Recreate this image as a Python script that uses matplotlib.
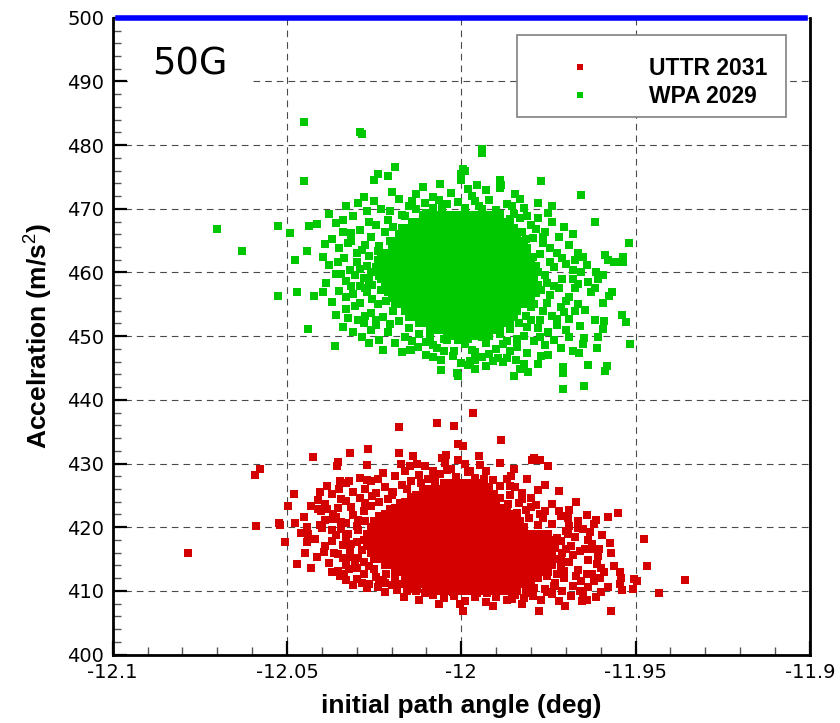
import matplotlib
matplotlib.use("Agg")
import matplotlib.pyplot as plt
from matplotlib.patches import Rectangle
from matplotlib.ticker import MultipleLocator

plt.rcParams["font.family"] = ["DejaVu Sans"]
plt.rcParams["mathtext.fontset"] = "custom"
plt.rcParams["mathtext.rm"] = "Liberation Sans"
plt.rcParams["mathtext.it"] = "Liberation Sans:italic"
plt.rcParams["mathtext.bf"] = "Liberation Sans:bold"

# ---------------------------------------------------------------- data
series_names = ["UTTR 2031", "WPA 2029"]
series_colors = ["#d40000", "#00c800"]

# (initial path angle [deg], acceleration [m/s^2]) for each Monte-Carlo run
uttr_points = [
    # outlying runs
    (-11.9965, 437.9), (-12.018, 435.7), (-12.0069, 436.4), (-12.002, 435.9), (-12.0008, 433.0),
    (-11.9996, 432.8), (-11.9886, 433.7), (-12.0424, 431.0), (-12.032, 431.7), (-12.0267, 432.3),
    (-12.018, 431.6), (-12.0139, 431.2), (-12.0578, 429.2), (-12.0592, 428.2), (-12.0354, 430.3),
    (-12.0357, 429.6), (-12.027, 429.8), (-12.0174, 430.0), (-12.0147, 429.6), (-12.0127, 429.9),
    (-12.0055, 430.9), (-12.0043, 431.3), (-12.0047, 430.1), (-11.9989, 430.0), (-11.9945, 429.8),
    (-11.989, 430.1), (-11.9797, 430.6), (-11.9791, 430.9), (-11.9773, 430.5), (-11.9752, 429.6),
    (-11.9856, 428.0), (-11.9759, 426.7), (-11.9719, 425.7), (-11.9549, 422.3), (-11.9578, 421.6),
    (-11.9614, 421.1), (-11.9475, 418.2), (-11.9466, 413.9), (-11.9359, 411.7), (-11.9433, 409.7),
    (-11.9505, 411.8), (-11.9495, 411.5), (-11.9508, 410.3), (-11.957, 406.8), (-11.9778, 406.8),
    (-11.9994, 406.9), (-11.9702, 407.7), (-11.9653, 408.4), (-11.9639, 408.5), (-11.9613, 409.1),
    (-11.9538, 410.1), (-11.9545, 411.0), (-11.9574, 417.5), (-11.957, 415.9), (-11.9562, 413.9),
    (-11.9545, 412.9), (-11.9543, 412.0), (-11.960, 413.6), (-11.9602, 412.0), (-11.9608, 415.5),
    (-11.9637, 418.0), (-11.9629, 416.5),
    (-12.0785, 416.0), (-12.0588, 420.2), (-12.0524, 420.6), (-12.0519, 420.3), (-12.0497, 423.3),
    (-12.0477, 420.7), (-12.0506, 417.7), (-12.0471, 414.2), (-12.0451, 421.6), (-12.0443, 420.0),
    (-12.044, 418.9), (-12.0443, 417.7), (-12.0448, 416.0), (-12.0404, 425.5), (-12.0384, 426.4),
    (-12.041, 422.8), (-12.0402, 422.5), (-12.0369, 422.1), (-12.0367, 421.3), (-12.0405, 420.3),
    (-12.040, 419.9), (-12.0354, 413.1), (-12.0349, 412.3), (-12.031, 410.9), (-12.0322, 413.5),
    (-12.0339, 415.1), (-12.0348, 427.2), (-12.0331, 426.9), (-12.0321, 427.2), (-12.0346, 424.5),
    (-12.027, 427.4), (-12.026, 427.2), (-12.0236, 411.4), (-12.0218, 411.2), (-12.0144, 410.3),
    (-12.0126, 410.3), (-12.0103, 409.6),
    # left flank
    (-12.041, 424.3), (-12.039, 423.6), (-12.037, 425.2), (-12.0355, 423.0), (-12.033, 424.1),
    (-12.031, 425.6), (-12.029, 424.6), (-12.0275, 426.0), (-12.0245, 425.3), (-12.022, 426.3),
    (-12.020, 425.1), (-12.017, 426.6), (-12.0145, 427.3), (-12.012, 428.2), (-12.0095, 427.6),
    (-12.008, 428.8), (-12.0225, 428.5), (-12.019, 428.0),
    (-12.039, 421.2), (-12.037, 419.6), (-12.0345, 420.8), (-12.033, 418.4), (-12.031, 421.9),
    (-12.030, 420.2), (-12.028, 422.6), (-12.026, 423.4), (-12.0235, 423.9), (-12.021, 424.4),
    (-12.042, 418.2), (-12.039, 417.1), (-12.0365, 416.0), (-12.034, 417.2), (-12.032, 416.3),
    (-12.0295, 415.2), (-12.0415, 415.3), (-12.038, 414.4), (-12.0355, 415.8), (-12.033, 414.0),
    (-12.030, 413.6), (-12.028, 412.6), (-12.0265, 413.9), (-12.0245, 412.2), (-12.0225, 411.7),
    (-12.020, 410.9), (-12.0175, 411.0), (-12.0155, 410.0), (-12.030, 411.9), (-12.0265, 411.0),
    (-12.036, 418.7), (-12.033, 420.6), (-12.0385, 422.9), (-12.035, 426.0), (-12.029, 427.8),
    (-12.024, 427.6), (-12.016, 428.8), (-12.0105, 429.6), (-12.033, 411.7), (-12.037, 412.9),
    (-12.043, 413.6), (-12.0395, 416.1), (-12.046, 419.1), (-12.043, 423.3), (-12.048, 425.2),
    (-12.027, 410.5), (-12.022, 409.8), (-12.0165, 409.0), (-12.012, 408.6), (-12.0065, 407.9),
    (-12.0325, 418.9), (-12.0315, 417.4), (-12.032, 415.3), (-12.0305, 414.3), (-12.0345, 419.7),
    (-12.036, 421.6), (-12.0315, 423.1), (-12.0275, 423.8), (-12.0255, 424.9), (-12.0195, 425.6),
    (-12.0155, 426.0), (-12.0115, 426.9), (-12.0075, 427.8), (-12.0335, 412.6), (-12.0285, 411.3),
    (-12.024, 410.6), (-12.0185, 410.2), (-12.0295, 421.2), (-12.0275, 420.9), (-12.037, 417.8),
    # upper flank
    (-12.006, 428.4), (-12.003, 429.1), (-12.0015, 427.9), (-11.998, 428.6), (-11.996, 427.8),
    (-11.993, 428.9), (-11.991, 427.4), (-11.989, 426.5), (-11.987, 427.6), (-11.9845, 426.3),
    (-11.9825, 425.4), (-11.980, 424.6), (-11.986, 425.0), (-11.9835, 423.8), (-11.9815, 422.7),
    (-11.9785, 423.5), (-11.976, 422.6), (-11.992, 426.2), (-11.9905, 425.2),
    (-12.001, 430.6), (-11.995, 431.2), (-11.985, 429.1), (-11.981, 427.5), (-11.978, 425.9),
    (-11.974, 423.6), (-11.969, 422.7), (-11.967, 423.9), (-11.964, 421.9),
    (-11.9695, 421.4), (-11.972, 422.6), (-11.9775, 422.0), (-11.980, 423.2), (-11.9825, 424.5),
    (-11.986, 426.4), (-11.9935, 427.6), (-11.9975, 428.9), (-12.004, 429.0),
    # right flank
    (-11.9765, 421.4), (-11.974, 420.5), (-11.9715, 421.8), (-11.969, 420.2), (-11.9665, 421.0),
    (-11.975, 419.0), (-11.9725, 418.3), (-11.970, 419.4), (-11.9675, 418.5), (-11.965, 419.7),
    (-11.9735, 416.7), (-11.971, 415.9), (-11.9685, 417.0), (-11.966, 416.2), (-11.9635, 414.8),
    (-11.974, 414.3), (-11.9715, 413.6), (-11.969, 414.5), (-11.9665, 413.2), (-11.964, 412.7),
    (-11.962, 411.6), (-11.9755, 412.4), (-11.973, 411.2), (-11.9705, 412.0), (-11.968, 410.8),
    (-11.9655, 411.5), (-11.976, 410.3), (-11.974, 409.5), (-11.971, 409.9), (-11.9685, 409.2),
    (-11.966, 410.0), (-11.9795, 409.2), (-11.977, 408.5), (-11.9635, 410.6), (-11.961, 414.2),
    (-11.959, 413.0), (-11.9625, 417.4), (-11.9605, 416.6),
    (-11.962, 420.5), (-11.9595, 418.8), (-11.958, 410.6), (-11.960, 409.8), (-11.972, 408.4),
    (-11.9715, 417.8), (-11.970, 416.5), (-11.9715, 414.9), (-11.9705, 413.1), (-11.9725, 412.6),
    (-11.9735, 410.8), (-11.9755, 409.8), (-11.979, 410.5), (-11.9695, 418.9), (-11.968, 415.6),
    (-11.967, 412.3), (-11.9645, 416.6), (-11.963, 419.2), (-11.9665, 419.9), (-11.965, 409.3),
    (-11.9625, 412.6),
    # lower flank
    (-12.008, 409.3), (-12.005, 408.8), (-12.002, 409.2), (-11.999, 408.4), (-11.996, 409.1),
    (-11.993, 408.3), (-11.990, 409.0), (-11.987, 408.6), (-11.9845, 409.4), (-11.982, 408.9),
    (-11.988, 410.1), (-11.9855, 410.4), (-12.0005, 408.0), (-11.9825, 407.9), (-11.991, 407.6),
    (-11.9955, 409.7), (-12.0025, 409.8), (-11.9925, 409.6), (-11.9855, 408.7), (-11.981, 409.7),
    # edge of the dense centre
    (-12.0295, 419.5), (-12.030, 417.6), (-12.0285, 416.4), (-12.028, 414.6), (-12.025, 413.4),
    (-12.0215, 412.6), (-12.019, 411.8), (-12.013, 409.9), (-12.0235, 421.8), (-12.0205, 422.9),
    (-12.0175, 423.8), (-12.0145, 424.8), (-12.011, 425.8), (-12.0075, 426.7),
    (-11.9805, 421.5), (-11.978, 420.4), (-11.9765, 418.9), (-11.9755, 417.3), (-11.9755, 415.5),
    (-11.9765, 413.8), (-11.978, 412.3), (-11.980, 411.3), (-11.9815, 410.2), (-11.984, 422.2),
    (-11.9865, 423.6), (-11.989, 424.6), (-11.9925, 426.3), (-11.996, 427.8),
    # dense centre
    (-12.005, 427), (-12.003, 427), (-12.001, 427), (-11.999, 427), (-11.997, 427), (-11.995, 427),
    (-12.010, 426), (-12.008, 426), (-12.006, 426), (-12.004, 426), (-12.002, 426), (-12.000, 426),
    (-11.998, 426), (-11.996, 426), (-11.994, 426),
    (-12.013, 425), (-12.011, 425), (-12.009, 425), (-12.007, 425), (-12.005, 425), (-12.003, 425),
    (-12.001, 425), (-11.999, 425), (-11.997, 425), (-11.995, 425), (-11.993, 425), (-11.991, 425),
    (-12.016, 424), (-12.014, 424), (-12.012, 424), (-12.010, 424), (-12.008, 424), (-12.006, 424),
    (-12.004, 424), (-12.002, 424), (-12.000, 424), (-11.998, 424), (-11.996, 424), (-11.994, 424),
    (-11.992, 424), (-11.990, 424),
    (-12.019, 423), (-12.017, 423), (-12.015, 423), (-12.013, 423), (-12.011, 423), (-12.009, 423),
    (-12.007, 423), (-12.005, 423), (-12.003, 423), (-12.001, 423), (-11.999, 423), (-11.997, 423),
    (-11.995, 423), (-11.993, 423), (-11.991, 423), (-11.989, 423), (-11.987, 423),
    (-12.022, 422), (-12.020, 422), (-12.018, 422), (-12.016, 422), (-12.014, 422), (-12.012, 422),
    (-12.010, 422), (-12.008, 422), (-12.006, 422), (-12.004, 422), (-12.002, 422), (-12.000, 422),
    (-11.998, 422), (-11.996, 422), (-11.994, 422), (-11.992, 422), (-11.990, 422), (-11.988, 422),
    (-11.986, 422),
    (-12.025, 421), (-12.023, 421), (-12.021, 421), (-12.019, 421), (-12.017, 421), (-12.015, 421),
    (-12.013, 421), (-12.011, 421), (-12.009, 421), (-12.007, 421), (-12.005, 421), (-12.003, 421),
    (-12.001, 421), (-11.999, 421), (-11.997, 421), (-11.995, 421), (-11.993, 421), (-11.991, 421),
    (-11.989, 421), (-11.987, 421), (-11.985, 421), (-11.983, 421),
    (-12.026, 420), (-12.024, 420), (-12.022, 420), (-12.020, 420), (-12.018, 420), (-12.016, 420),
    (-12.014, 420), (-12.012, 420), (-12.010, 420), (-12.008, 420), (-12.006, 420), (-12.004, 420),
    (-12.002, 420), (-12.000, 420), (-11.998, 420), (-11.996, 420), (-11.994, 420), (-11.992, 420),
    (-11.990, 420), (-11.988, 420), (-11.986, 420), (-11.984, 420), (-11.982, 420),
    (-12.027, 419), (-12.025, 419), (-12.023, 419), (-12.021, 419), (-12.019, 419), (-12.017, 419),
    (-12.015, 419), (-12.013, 419), (-12.011, 419), (-12.009, 419), (-12.007, 419), (-12.005, 419),
    (-12.003, 419), (-12.001, 419), (-11.999, 419), (-11.997, 419), (-11.995, 419), (-11.993, 419),
    (-11.991, 419), (-11.989, 419), (-11.987, 419), (-11.985, 419), (-11.983, 419), (-11.981, 419),
    (-11.979, 419), (-11.977, 419), (-11.975, 419),
    (-12.028, 418), (-12.026, 418), (-12.024, 418), (-12.022, 418), (-12.020, 418), (-12.018, 418),
    (-12.016, 418), (-12.014, 418), (-12.012, 418), (-12.010, 418), (-12.008, 418), (-12.006, 418),
    (-12.004, 418), (-12.002, 418), (-12.000, 418), (-11.998, 418), (-11.996, 418), (-11.994, 418),
    (-11.992, 418), (-11.990, 418), (-11.988, 418), (-11.986, 418), (-11.984, 418), (-11.982, 418),
    (-11.980, 418), (-11.978, 418), (-11.976, 418), (-11.974, 418),
    (-12.027, 417), (-12.025, 417), (-12.023, 417), (-12.021, 417), (-12.019, 417), (-12.017, 417),
    (-12.015, 417), (-12.013, 417), (-12.011, 417), (-12.009, 417), (-12.007, 417), (-12.005, 417),
    (-12.003, 417), (-12.001, 417), (-11.999, 417), (-11.997, 417), (-11.995, 417), (-11.993, 417),
    (-11.991, 417), (-11.989, 417), (-11.987, 417), (-11.985, 417), (-11.983, 417), (-11.981, 417),
    (-11.979, 417), (-11.977, 417), (-11.975, 417), (-11.973, 417),
    (-12.026, 416), (-12.024, 416), (-12.022, 416), (-12.020, 416), (-12.018, 416), (-12.016, 416),
    (-12.014, 416), (-12.012, 416), (-12.010, 416), (-12.008, 416), (-12.006, 416), (-12.004, 416),
    (-12.002, 416), (-12.000, 416), (-11.998, 416), (-11.996, 416), (-11.994, 416), (-11.992, 416),
    (-11.990, 416), (-11.988, 416), (-11.986, 416), (-11.984, 416), (-11.982, 416), (-11.980, 416),
    (-11.978, 416), (-11.976, 416), (-11.974, 416),
    (-12.025, 415), (-12.023, 415), (-12.021, 415), (-12.019, 415), (-12.017, 415), (-12.015, 415),
    (-12.013, 415), (-12.011, 415), (-12.009, 415), (-12.007, 415), (-12.005, 415), (-12.003, 415),
    (-12.001, 415), (-11.999, 415), (-11.997, 415), (-11.995, 415), (-11.993, 415), (-11.991, 415),
    (-11.989, 415), (-11.987, 415), (-11.985, 415), (-11.983, 415), (-11.981, 415), (-11.979, 415),
    (-11.977, 415), (-11.975, 415), (-11.973, 415),
    (-12.022, 414), (-12.020, 414), (-12.018, 414), (-12.016, 414), (-12.014, 414), (-12.012, 414),
    (-12.010, 414), (-12.008, 414), (-12.006, 414), (-12.004, 414), (-12.002, 414), (-12.000, 414),
    (-11.998, 414), (-11.996, 414), (-11.994, 414), (-11.992, 414), (-11.990, 414), (-11.988, 414),
    (-11.986, 414), (-11.984, 414), (-11.982, 414), (-11.980, 414), (-11.978, 414), (-11.976, 414),
    (-11.974, 414),
    (-12.019, 413), (-12.017, 413), (-12.015, 413), (-12.013, 413), (-12.011, 413), (-12.009, 413),
    (-12.007, 413), (-12.005, 413), (-12.003, 413), (-12.001, 413), (-11.999, 413), (-11.997, 413),
    (-11.995, 413), (-11.993, 413), (-11.991, 413), (-11.989, 413), (-11.987, 413), (-11.985, 413),
    (-11.983, 413), (-11.981, 413), (-11.979, 413), (-11.977, 413), (-11.975, 413),
    (-12.016, 412), (-12.014, 412), (-12.012, 412), (-12.010, 412), (-12.008, 412), (-12.006, 412),
    (-12.004, 412), (-12.002, 412), (-12.000, 412), (-11.998, 412), (-11.996, 412), (-11.994, 412),
    (-11.992, 412), (-11.990, 412), (-11.988, 412), (-11.986, 412), (-11.984, 412), (-11.982, 412),
    (-11.980, 412), (-11.978, 412),
    (-12.017, 411), (-12.015, 411), (-12.013, 411), (-12.011, 411), (-12.009, 411), (-12.007, 411),
    (-12.005, 411), (-12.003, 411), (-12.001, 411), (-11.999, 411), (-11.997, 411), (-11.995, 411),
    (-11.993, 411), (-11.991, 411), (-11.989, 411), (-11.987, 411), (-11.985, 411), (-11.983, 411),
    (-11.981, 411),
    (-12.010, 410), (-12.008, 410), (-12.006, 410), (-12.004, 410), (-12.002, 410), (-12.000, 410),
    (-11.998, 410), (-11.996, 410), (-11.994, 410), (-11.992, 410), (-11.990, 410), (-11.988, 410),
    (-11.986, 410), (-11.984, 410),
]

wpa_points = [
    # outlying runs
    (-12.070, 466.9), (-12.063, 463.4), (-12.045, 483.6), (-12.029, 482.1), (-12.0285, 481.7),
    (-11.994, 479.4), (-11.994, 478.8), (-12.045, 474.3), (-11.977, 474.3),
    (-12.019, 476.5), (-12.024, 475.5), (-12.025, 474.6), (-12.021, 475.1),
    (-11.9995, 476.3), (-11.999, 476.0), (-12.000, 475.4), (-12.000, 474.6),
    (-11.989, 474.6), (-11.9886, 473.8), (-11.989, 473.3), (-11.9956, 473.8),
    (-11.9845, 472.4), (-11.9655, 472.1), (-11.974, 470.5),
    (-12.0525, 467.3), (-12.049, 466.2), (-12.0436, 467.3), (-12.0413, 467.6), (-12.0444, 463.3),
    (-12.0478, 462.0), (-12.0525, 456.3), (-12.047, 457.0), (-12.0441, 451.1), (-12.0362, 448.4),
    (-12.0398, 457.0), (-12.0422, 456.3), (-12.0396, 462.4), (-12.0389, 458.3),
    (-11.9616, 468.0), (-11.952, 464.7), (-11.9587, 462.8), (-11.958, 461.9), (-11.9561, 461.6),
    (-11.9551, 461.6), (-11.9537, 461.7), (-11.9535, 462.5), (-11.965, 462.5), (-11.964, 461.1),
    (-11.9594, 459.6), (-11.9613, 460.1), (-11.9608, 458.9), (-11.9637, 458.5), (-11.9568, 456.9),
    (-11.9576, 456.3), (-11.9628, 456.9), (-11.9616, 457.5), (-11.9592, 455.2), (-11.9539, 453.3),
    (-11.9526, 452.3), (-11.959, 452.4), (-11.9617, 452.6), (-11.9594, 451.2), (-11.9609, 449.8),
    (-11.961, 448.2), (-11.9515, 448.8), (-11.9635, 445.5), (-11.9583, 445.3), (-11.9587, 444.6),
    (-11.9649, 442.1), (-11.9709, 441.7), (-11.9709, 444.2), (-11.9709, 445.2), (-11.9661, 447.4),
    (-11.968, 447.6), (-11.9652, 448.7), (-11.9649, 449.7), (-11.969, 449.8),
    (-12.0059, 444.7), (-12.001, 443.7), (-12.0011, 444.2), (-11.985, 443.8), (-11.9809, 444.3),
    (-11.983, 444.9), (-11.982, 445.7), (-11.9844, 446.3), (-11.988, 446.0), (-11.9895, 446.6),
    (-11.987, 446.6), (-12.0057, 446.2), (-12.000, 445.8), (-11.998, 445.5), (-11.9975, 446.1),
    (-11.996, 446.2), (-12.0148, 447.9), (-12.0143, 447.8),
    # left flank
    (-12.038, 469.2), (-12.036, 467.8), (-12.033, 470.4), (-12.031, 468.9), (-12.0295, 470.9),
    (-12.027, 469.6), (-12.025, 471.2), (-12.023, 470.0), (-12.021, 468.3), (-12.0245, 467.5),
    (-12.037, 465.3), (-12.035, 463.9), (-12.034, 466.4), (-12.0315, 465.0), (-12.029, 466.7),
    (-12.0275, 464.3), (-12.026, 465.6), (-12.024, 463.4), (-12.022, 466.3), (-12.0205, 464.9),
    (-12.038, 461.2), (-12.036, 459.8), (-12.0335, 462.3), (-12.032, 460.4), (-12.030, 461.7),
    (-12.028, 459.2), (-12.0265, 462.6), (-12.0245, 460.9), (-12.0255, 458.0),
    (-12.037, 455.4), (-12.035, 457.1), (-12.033, 454.2), (-12.031, 456.6), (-12.029, 455.2),
    (-12.027, 456.9), (-12.026, 453.6), (-12.024, 455.0), (-12.0225, 453.0), (-12.028, 452.1),
    (-12.034, 451.5), (-12.031, 450.6), (-12.0285, 449.9), (-12.026, 451.0), (-12.0235, 449.4),
    (-12.021, 450.7), (-12.019, 449.0), (-12.0225, 447.8), (-12.017, 447.5), (-12.0125, 448.3),
    (-12.030, 463.1), (-12.033, 458.7), (-12.0355, 461.6), (-12.029, 457.8), (-12.0325, 452.8),
    (-12.0265, 449.0), (-12.036, 453.4), (-12.039, 464.4), (-12.034, 468.2),
    (-12.027, 461.0), (-12.0285, 463.6), (-12.026, 460.1), (-12.0305, 459.6), (-12.0275, 457.5),
    (-12.0255, 455.8), (-12.0305, 454.8), (-12.0275, 453.2), (-12.0245, 451.7), (-12.0315, 466.2),
    (-12.0265, 467.9), (-12.0205, 469.7), (-12.0195, 467.1), (-12.0265, 458.8), (-12.029, 460.5),
    (-12.033, 456.1), (-12.0245, 452.6), (-12.0205, 451.9), (-12.0345, 459.7), (-12.0325, 464.6),
    (-12.0295, 452.5), (-12.0315, 457.9),
    # upper flank
    (-12.018, 471.6), (-12.015, 470.4), (-12.013, 472.3), (-12.0105, 470.9), (-12.008, 471.8),
    (-12.0055, 470.3), (-12.003, 472.5), (-12.001, 471.0), (-11.997, 472.0), (-11.995, 470.5),
    (-11.992, 471.4), (-11.990, 469.8), (-11.987, 470.8), (-11.985, 469.2), (-11.982, 470.1),
    (-12.016, 468.8), (-12.010, 469.3), (-11.989, 468.2), (-11.986, 467.4), (-11.983, 468.5),
    (-12.028, 471.8), (-12.020, 472.6), (-12.011, 473.4), (-12.006, 473.9), (-11.998, 473.1),
    (-11.993, 472.9), (-11.983, 471.6), (-11.978, 470.9), (-12.004, 470.8), (-11.999, 470.2),
    (-11.9855, 470.5), (-11.996, 471.3), (-12.0065, 471.4), (-12.014, 471.2),
    # right flank
    (-11.980, 467.4), (-11.978, 468.6), (-11.976, 466.3), (-11.974, 467.9), (-11.972, 465.6),
    (-11.9765, 464.6), (-11.9795, 465.4), (-11.981, 463.8), (-11.9775, 462.9), (-11.9745, 463.8),
    (-11.971, 462.2), (-11.969, 464.3),
    (-11.9785, 461.0), (-11.976, 459.6), (-11.9735, 460.9), (-11.971, 459.0), (-11.968, 460.4),
    (-11.9665, 458.2), (-11.9795, 458.5), (-11.977, 457.2), (-11.9745, 456.4), (-11.972, 457.6),
    (-11.969, 456.1), (-11.9665, 455.0),
    (-11.979, 455.0), (-11.9765, 454.0), (-11.974, 453.2), (-11.9715, 454.6), (-11.969, 452.7),
    (-11.9675, 453.9), (-11.980, 452.6), (-11.978, 451.3), (-11.975, 450.6), (-11.9725, 451.8),
    (-11.970, 450.9), (-11.982, 450.1), (-11.979, 449.2), (-11.976, 448.6), (-11.9735, 449.4),
    (-11.984, 448.3),
    (-11.975, 469.3), (-11.9705, 467.2), (-11.968, 466.0), (-11.9665, 463.0), (-11.9655, 460.0),
    (-11.9675, 457.5), (-11.9645, 454.1), (-11.966, 451.6), (-11.9715, 448.2),
    (-11.9775, 452.5), (-11.9755, 455.2), (-11.9735, 457.9), (-11.9755, 458.4), (-11.9745, 461.6),
    (-11.9725, 463.1), (-11.9765, 465.5), (-11.9785, 466.8), (-11.981, 468.9), (-11.970, 461.3),
    (-11.968, 458.9), (-11.970, 455.6), (-11.9725, 452.7), (-11.9775, 449.9), (-11.9705, 453.8),
    (-11.9675, 462.0),
    # lower flank
    (-12.010, 449.1), (-12.007, 448.2), (-12.004, 449.4), (-12.002, 447.6), (-11.999, 448.7),
    (-11.996, 447.5), (-11.993, 449.0), (-11.990, 448.0), (-11.987, 449.3), (-12.008, 446.7),
    (-12.0025, 446.9), (-11.994, 446.8), (-11.991, 446.1),
    (-11.977, 446.9), (-11.981, 447.3), (-11.986, 447.6), (-11.992, 447.2), (-12.005, 447.6),
    (-12.010, 447.0), (-11.996, 444.9), (-11.993, 445.3), (-11.978, 445.6), (-11.975, 447.1),
    (-12.016, 449.8), (-12.014, 449.2), (-12.008, 448.6), (-11.997, 447.9), (-11.988, 448.7),
    (-11.984, 449.6), (-11.981, 451.5),
    # edge of the dense centre
    (-12.0235, 464.2), (-12.0235, 461.8), (-12.0235, 459.5), (-12.023, 457.2), (-12.0215, 455.6),
    (-12.0195, 453.9), (-12.018, 452.4), (-12.015, 451.3), (-12.012, 450.4), (-12.009, 449.9),
    (-12.005, 449.6), (-12.001, 449.4),
    (-11.9795, 462.4), (-11.9785, 460.5), (-11.9785, 456.8), (-11.980, 454.6), (-11.9815, 453.2),
    (-11.9835, 452.0), (-11.986, 451.1), (-11.989, 450.3), (-11.994, 449.8), (-11.998, 449.6),
    (-12.017, 469.0), (-12.013, 470.0), (-12.008, 470.2), (-11.994, 469.9), (-11.989, 469.2),
    (-11.986, 468.4), (-11.9825, 466.4), (-11.9815, 465.2),
    # dense centre
    (-12.011, 469), (-12.009, 469), (-12.007, 469), (-12.005, 469), (-12.003, 469), (-12.001, 469),
    (-11.999, 469), (-11.997, 469), (-11.995, 469), (-11.993, 469), (-11.991, 469),
    (-12.014, 468), (-12.012, 468), (-12.010, 468), (-12.008, 468), (-12.006, 468), (-12.004, 468),
    (-12.002, 468), (-12.000, 468), (-11.998, 468), (-11.996, 468), (-11.994, 468), (-11.992, 468),
    (-11.990, 468), (-11.988, 468),
    (-12.017, 467), (-12.015, 467), (-12.013, 467), (-12.011, 467), (-12.009, 467), (-12.007, 467),
    (-12.005, 467), (-12.003, 467), (-12.001, 467), (-11.999, 467), (-11.997, 467), (-11.995, 467),
    (-11.993, 467), (-11.991, 467), (-11.989, 467), (-11.987, 467), (-11.985, 467),
    (-12.018, 466), (-12.016, 466), (-12.014, 466), (-12.012, 466), (-12.010, 466), (-12.008, 466),
    (-12.006, 466), (-12.004, 466), (-12.002, 466), (-12.000, 466), (-11.998, 466), (-11.996, 466),
    (-11.994, 466), (-11.992, 466), (-11.990, 466), (-11.988, 466), (-11.986, 466), (-11.984, 466),
    (-12.019, 465), (-12.017, 465), (-12.015, 465), (-12.013, 465), (-12.011, 465), (-12.009, 465),
    (-12.007, 465), (-12.005, 465), (-12.003, 465), (-12.001, 465), (-11.999, 465), (-11.997, 465),
    (-11.995, 465), (-11.993, 465), (-11.991, 465), (-11.989, 465), (-11.987, 465), (-11.985, 465),
    (-11.983, 465),
    (-12.020, 464), (-12.018, 464), (-12.016, 464), (-12.014, 464), (-12.012, 464), (-12.010, 464),
    (-12.008, 464), (-12.006, 464), (-12.004, 464), (-12.002, 464), (-12.000, 464), (-11.998, 464),
    (-11.996, 464), (-11.994, 464), (-11.992, 464), (-11.990, 464), (-11.988, 464), (-11.986, 464),
    (-11.984, 464), (-11.982, 464),
    (-12.023, 463), (-12.021, 463), (-12.019, 463), (-12.017, 463), (-12.015, 463), (-12.013, 463),
    (-12.011, 463), (-12.009, 463), (-12.007, 463), (-12.005, 463), (-12.003, 463), (-12.001, 463),
    (-11.999, 463), (-11.997, 463), (-11.995, 463), (-11.993, 463), (-11.991, 463), (-11.989, 463),
    (-11.987, 463), (-11.985, 463), (-11.983, 463), (-11.981, 463),
    (-12.024, 462), (-12.022, 462), (-12.020, 462), (-12.018, 462), (-12.016, 462), (-12.014, 462),
    (-12.012, 462), (-12.010, 462), (-12.008, 462), (-12.006, 462), (-12.004, 462), (-12.002, 462),
    (-12.000, 462), (-11.998, 462), (-11.996, 462), (-11.994, 462), (-11.992, 462), (-11.990, 462),
    (-11.988, 462), (-11.986, 462), (-11.984, 462), (-11.982, 462), (-11.980, 462),
    (-12.023, 461), (-12.021, 461), (-12.019, 461), (-12.017, 461), (-12.015, 461), (-12.013, 461),
    (-12.011, 461), (-12.009, 461), (-12.007, 461), (-12.005, 461), (-12.003, 461), (-12.001, 461),
    (-11.999, 461), (-11.997, 461), (-11.995, 461), (-11.993, 461), (-11.991, 461), (-11.989, 461),
    (-11.987, 461), (-11.985, 461), (-11.983, 461), (-11.981, 461), (-11.979, 461),
    (-12.024, 460), (-12.022, 460), (-12.020, 460), (-12.018, 460), (-12.016, 460), (-12.014, 460),
    (-12.012, 460), (-12.010, 460), (-12.008, 460), (-12.006, 460), (-12.004, 460), (-12.002, 460),
    (-12.000, 460), (-11.998, 460), (-11.996, 460), (-11.994, 460), (-11.992, 460), (-11.990, 460),
    (-11.988, 460), (-11.986, 460), (-11.984, 460), (-11.982, 460), (-11.980, 460), (-11.978, 460),
    (-12.023, 459), (-12.021, 459), (-12.019, 459), (-12.017, 459), (-12.015, 459), (-12.013, 459),
    (-12.011, 459), (-12.009, 459), (-12.007, 459), (-12.005, 459), (-12.003, 459), (-12.001, 459),
    (-11.999, 459), (-11.997, 459), (-11.995, 459), (-11.993, 459), (-11.991, 459), (-11.989, 459),
    (-11.987, 459), (-11.985, 459), (-11.983, 459), (-11.981, 459), (-11.979, 459),
    (-12.022, 458), (-12.020, 458), (-12.018, 458), (-12.016, 458), (-12.014, 458), (-12.012, 458),
    (-12.010, 458), (-12.008, 458), (-12.006, 458), (-12.004, 458), (-12.002, 458), (-12.000, 458),
    (-11.998, 458), (-11.996, 458), (-11.994, 458), (-11.992, 458), (-11.990, 458), (-11.988, 458),
    (-11.986, 458), (-11.984, 458), (-11.982, 458), (-11.980, 458), (-11.978, 458),
    (-12.021, 457), (-12.019, 457), (-12.017, 457), (-12.015, 457), (-12.013, 457), (-12.011, 457),
    (-12.009, 457), (-12.007, 457), (-12.005, 457), (-12.003, 457), (-12.001, 457), (-11.999, 457),
    (-11.997, 457), (-11.995, 457), (-11.993, 457), (-11.991, 457), (-11.989, 457), (-11.987, 457),
    (-11.985, 457), (-11.983, 457), (-11.981, 457), (-11.979, 457),
    (-12.020, 456), (-12.018, 456), (-12.016, 456), (-12.014, 456), (-12.012, 456), (-12.010, 456),
    (-12.008, 456), (-12.006, 456), (-12.004, 456), (-12.002, 456), (-12.000, 456), (-11.998, 456),
    (-11.996, 456), (-11.994, 456), (-11.992, 456), (-11.990, 456), (-11.988, 456), (-11.986, 456),
    (-11.984, 456), (-11.982, 456), (-11.980, 456),
    (-12.019, 455), (-12.017, 455), (-12.015, 455), (-12.013, 455), (-12.011, 455), (-12.009, 455),
    (-12.007, 455), (-12.005, 455), (-12.003, 455), (-12.001, 455), (-11.999, 455), (-11.997, 455),
    (-11.995, 455), (-11.993, 455), (-11.991, 455), (-11.989, 455), (-11.987, 455), (-11.985, 455),
    (-11.983, 455), (-11.981, 455),
    (-12.016, 454), (-12.014, 454), (-12.012, 454), (-12.010, 454), (-12.008, 454), (-12.006, 454),
    (-12.004, 454), (-12.002, 454), (-12.000, 454), (-11.998, 454), (-11.996, 454), (-11.994, 454),
    (-11.992, 454), (-11.990, 454), (-11.988, 454), (-11.986, 454), (-11.984, 454),
    (-12.015, 453), (-12.013, 453), (-12.011, 453), (-12.009, 453), (-12.007, 453), (-12.005, 453),
    (-12.003, 453), (-12.001, 453), (-11.999, 453), (-11.997, 453), (-11.995, 453), (-11.993, 453),
    (-11.991, 453), (-11.989, 453), (-11.987, 453), (-11.985, 453),
    (-12.012, 452), (-12.010, 452), (-12.008, 452), (-12.006, 452), (-12.004, 452), (-12.002, 452),
    (-12.000, 452), (-11.998, 452), (-11.996, 452), (-11.994, 452), (-11.992, 452), (-11.990, 452),
    (-11.988, 452), (-11.986, 452),
    (-12.009, 451), (-12.007, 451), (-12.005, 451), (-12.003, 451), (-12.001, 451), (-11.999, 451),
    (-11.997, 451), (-11.995, 451), (-11.993, 451), (-11.991, 451), (-11.989, 451),
    (-12.004, 450), (-12.002, 450), (-12.000, 450), (-11.998, 450), (-11.996, 450), (-11.994, 450),
    (-11.992, 450),
]

x_ticks = [-12.1, -12.05, -12.0, -11.95, -11.9]
x_tick_labels = ["-12.1", "-12.05", "-12", "-11.95", "-11.9"]
y_ticks = [400, 410, 420, 430, 440, 450, 460, 470, 480, 490, 500]
accel_limit = 500
panel_tag = "50G"

# ---------------------------------------------------------------- figure
fig = plt.figure(figsize=(8.4, 7.23), dpi=100)
ax = fig.add_axes([0.1342, 0.0947, 0.8298, 0.8807])

for pts, name, color in zip([uttr_points, wpa_points], series_names, series_colors):
    xs = [p[0] for p in pts]
    ys = [p[1] for p in pts]
    ax.plot(xs, ys, linestyle="none", marker="s", markersize=5.3,
            markeredgewidth=0, color=color, label=name, zorder=2,
            antialiased=False)

ax.set_xlim(-12.1, -11.9)
ax.set_ylim(400, 500)
ax.set_xticks(x_ticks)
ax.set_xticklabels(x_tick_labels)
ax.set_yticks(y_ticks)
ax.xaxis.set_minor_locator(MultipleLocator(0.01))
ax.yaxis.set_minor_locator(MultipleLocator(2))

ax.grid(True, which="major", color="#4a4a4a", linewidth=0.8,
        linestyle=(0, (6, 4.5)))

ax.tick_params(which="major", direction="in", length=10, width=1.6,
               color="black", labelsize=14, top=False, right=False, pad=6)
ax.tick_params(which="minor", direction="in", length=6, width=1.0,
               color="#555555", top=False, right=False)

for side in ("left", "right", "bottom"):
    ax.spines[side].set_linewidth(2.0)
    ax.spines[side].set_color("black")
ax.spines["top"].set_visible(False)

# upper acceleration limit
ax.axhline(accel_limit, xmin=0.0076, xmax=0.9925, color="#0000ff",
           linewidth=4.0, zorder=4, clip_on=False)

ax.set_xlabel("initial path angle (deg)", fontsize=19, fontweight="bold",
              family="Liberation Sans", labelpad=9)
ax.set_ylabel(r"Accelration (m/s$^{2}$)", fontsize=19, fontweight="bold",
              family="Liberation Sans", labelpad=9)

ax.text(0.0564, 0.9117, panel_tag, transform=ax.transAxes, fontsize=26.5,
        va="baseline", ha="left", zorder=1.6,
        bbox=dict(facecolor="white", edgecolor="none", pad=17))

# legend: separate frame so the entries can sit slightly low in the box
ax.add_patch(Rectangle((0.580, 0.844), 0.386, 0.129, transform=ax.transAxes,
                       facecolor="white", edgecolor="#808080", linewidth=1.2,
                       zorder=4.5))
leg = ax.legend(loc="upper left", bbox_to_anchor=(0.580, 0.9636),
                borderaxespad=0,
                prop=dict(family="Liberation Sans", weight="bold", size=16.5),
                frameon=False, borderpad=0.72, labelspacing=0.18,
                handlelength=4.06, handletextpad=0.98, numpoints=1,
                markerscale=0.8)
leg.set_zorder(5)

fig.savefig("out.png", dpi=100)
